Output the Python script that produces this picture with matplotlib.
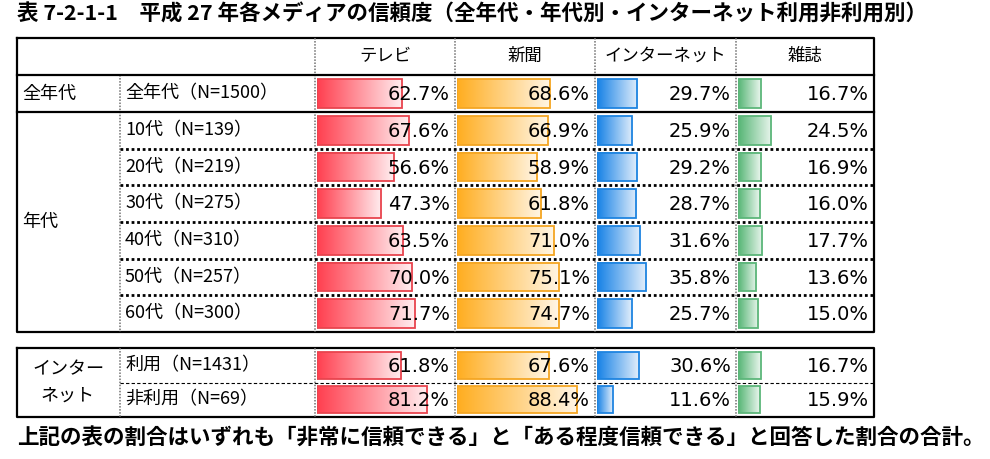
import numpy as np
import matplotlib.pyplot as plt
from matplotlib.colors import LinearSegmentedColormap

plt.rcParams['font.family'] = ['Noto Sans CJK JP', 'DejaVu Sans']

# ── data ──
title = '表 7-2-1-1　平成 27 年各メディアの信頼度（全年代・年代別・インターネット利用非利用別）'
note = '上記の表の割合はいずれも「非常に信頼できる」と「ある程度信頼できる」と回答した割合の合計。'
media = ['テレビ', '新聞', 'インターネット', '雑誌']
row_labels = ['全年代（N=1500）', '10代（N=139）', '20代（N=219）', '30代（N=275）',
              '40代（N=310）', '50代（N=257）', '60代（N=300）',
              '利用（N=1431）', '非利用（N=69）']
tv = [62.7, 67.6, 56.6, 47.3, 63.5, 70.0, 71.7, 61.8, 81.2]
paper = [68.6, 66.9, 58.9, 61.8, 71.0, 75.1, 74.7, 67.6, 88.4]
net = [29.7, 25.9, 29.2, 28.7, 31.6, 35.8, 25.7, 30.6, 11.6]
mag = [16.7, 24.5, 16.9, 16.0, 17.7, 13.6, 15.0, 16.7, 15.9]

# ── layout (pixel units) ──
W, H = 990, 459
X = [17, 120, 315, 455, 595, 736, 874]
age_edges = np.linspace(112, 332, 7)
net_edges = np.linspace(348, 417, 3)
tops = np.r_[75, age_edges[:-1], net_edges[:-1]]
bots = np.r_[112, age_edges[1:], net_edges[1:]]
centers = (tops + bots) / 2
heights = (bots - tops) * 0.78

bar_styles = [
    (['#ff3f4f', '#ffeef0'], '#e8444e'),
    (['#ffad1f', '#fff6e6'], '#f5a623'),
    (['#1581e6', '#e2eefb'], '#1e84e0'),
    (['#55b574', '#eaf6ee'], '#5cb67a'),
]

fig = plt.figure(figsize=(W / 100, H / 100), dpi=100)
ax = fig.add_axes([0, 0, 1, 1])
ax.set_xlim(0, W)
ax.set_ylim(H, 0)
ax.axis('off')
ax.set_zorder(2)
ax.patch.set_alpha(0)

grad = np.linspace(0, 1, 256).reshape(1, -1)
for j, vals in enumerate([tv, paper, net, mag]):
    colors, edge = bar_styles[j]
    cmap = LinearSegmentedColormap.from_list('g%d' % j, colors)
    cax = fig.add_axes([(X[j + 2] + 2) / W, 0, 136 / W, 1])
    bars = cax.barh(centers, vals, height=heights, left=0, facecolor='none',
                    edgecolor=edge, linewidth=1.3, zorder=3)
    for b in bars:
        x0, y0 = b.get_x(), b.get_y()
        cax.imshow(grad, cmap=cmap, aspect='auto', zorder=2,
                   extent=(x0, x0 + b.get_width(), y0 + b.get_height(), y0))
    cax.set_xlim(0, 100)
    cax.set_ylim(H, 0)
    cax.axis('off')
    for yc, v in zip(centers, vals):
        ax.text(X[j + 3] - 5, yc + 1, '%.1f%%' % v, ha='right', va='center',
                fontsize=14, family=['Liberation Sans Narrow', 'DejaVu Sans'])
    ax.text((X[j + 2] + X[j + 3]) / 2, 56, media[j], ha='center', va='center', fontsize=12.5)

# ── texts ──
ax.text(17, 14, title, ha='left', va='center', fontsize=15.5, fontweight='bold')
ax.text(17, 438, note, ha='left', va='center', fontsize=15.5, fontweight='bold')
ax.text(22, centers[0], '全年代', ha='left', va='center', fontsize=13)
ax.text(22, 222, '年代', ha='left', va='center', fontsize=13)
ax.text(68, (348 + 417) / 2, 'インター\nネット', ha='center', va='center',
        fontsize=13, linespacing=1.6)
for yc, lab in zip(centers, row_labels):
    ax.text(125, yc, lab, ha='left', va='center', fontsize=13)

# ── grid lines ──
solid = dict(color='black', linewidth=1.6, solid_capstyle='projecting')
grey = dict(color='#707070', linewidth=1.1, linestyle=(0, (1, 1)))
for y0, y1 in [(38, 332), (348, 417)]:
    ax.plot([X[0], X[-1], X[-1], X[0], X[0]], [y0, y0, y1, y1, y0], **solid)
    for x in X[2:-1]:
        ax.plot([x, x], [y0, y1], **grey)
    ax.plot([X[1], X[1]], [75 if y0 == 38 else y0, y1], **grey)
ax.plot([X[0], X[-1]], [75, 75], **solid)
ax.plot([X[0], X[-1]], [112, 112], **solid)
for y in age_edges[1:-1]:
    ax.plot([X[1], X[-1]], [y, y], color='black', linewidth=2, linestyle=(0, (1, 1)))
ax.plot([X[1], X[-1]], [net_edges[1]] * 2, color='black', linewidth=0.8,
        linestyle=(0, (3, 2)))

fig.savefig('out.png', dpi=100)
